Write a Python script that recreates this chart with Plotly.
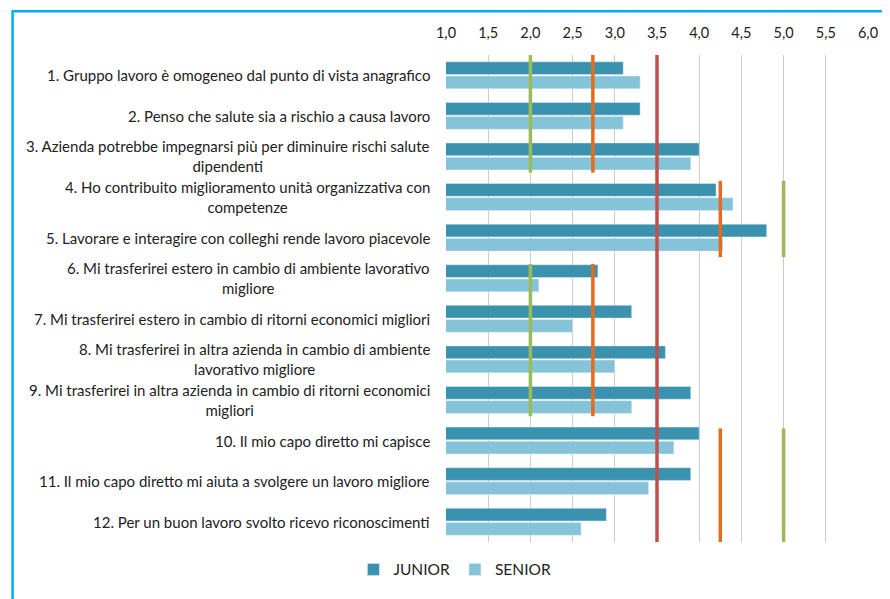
import plotly.graph_objects as go

# survey items (Italian), 1 = top row
domande = [
    "1. Gruppo lavoro è omogeneo dal punto di vista anagrafico",
    "2. Penso che salute sia a rischio a causa lavoro",
    "3. Azienda potrebbe impegnarsi più per diminuire rischi salute<br>dipendenti",
    "4. Ho contribuito miglioramento unità organizzativa con<br>competenze",
    "5. Lavorare e interagire con colleghi rende lavoro piacevole",
    "6. Mi trasferirei estero in cambio di ambiente lavorativo<br>migliore",
    "7. Mi trasferirei estero in cambio di ritorni economici migliori",
    "8. Mi trasferirei in altra azienda in cambio di ambiente<br>lavorativo migliore",
    "9. Mi trasferirei in altra azienda in cambio di ritorni economici<br>migliori",
    "10. Il mio capo diretto mi capisce",
    "11. Il mio capo diretto mi aiuta a svolgere un lavoro migliore",
    "12. Per un buon lavoro svolto ricevo riconoscimenti",
]
junior = [3.1, 3.3, 4.0, 4.2, 4.8, 2.8, 3.2, 3.6, 3.9, 4.0, 3.9, 2.9]
senior = [3.3, 3.1, 3.9, 4.4, 4.28, 2.1, 2.5, 3.0, 3.2, 3.7, 3.4, 2.6]

# reference values drawn as vertical segments over blocks of items
media = 3.5
blocco_inizio = [-0.5, 2.6, 4.65, 8.7]
blocco_fine = [2.4, 4.48, 8.4, 11.6]
soglia_arancio = [2.74, 4.25, 2.74, 4.25]
soglia_verde = [2.0, 5.0, 2.0, 5.0]

pos = list(range(len(domande)))

# page body has an 8px margin, so the figure is 8px smaller than the window
W, H = 882, 591
ML, MR, MT, MB = 438, 18, 47, 54

fig = go.Figure()
fig.add_trace(go.Bar(y=pos, x=junior, orientation="h", name="JUNIOR",
                     marker=dict(color="#3A92AF")))
fig.add_trace(go.Bar(y=pos, x=senior, orientation="h", name="SENIOR",
                     marker=dict(color="#84C3D8")))

for v, a, b in zip(soglia_verde, blocco_inizio, blocco_fine):
    fig.add_trace(go.Scatter(x=[v, v], y=[a, b], mode="lines", showlegend=False,
                             line=dict(color="#9BBB59", width=3.5), hoverinfo="skip"))
for v, a, b in zip(soglia_arancio, blocco_inizio, blocco_fine):
    fig.add_trace(go.Scatter(x=[v, v], y=[a, b], mode="lines", showlegend=False,
                             line=dict(color="#E46C1E", width=3.5), hoverinfo="skip"))
fig.add_trace(go.Scatter(x=[media, media], y=[-0.5, 11.5], mode="lines", showlegend=False,
                         line=dict(color="#C0504D", width=3.5), hoverinfo="skip"))

for i, txt in enumerate(domande):
    fig.add_annotation(x=0, y=i, xref="paper", yref="y", text=txt, showarrow=False,
                       xanchor="right", yanchor="middle", align="center", xshift=-14,
                       font=dict(size=15, color="#222222"))

# light blue frame
pw, ph = W - ML - MR, H - MT - MB
x0 = (0.5 - ML) / pw
y1 = 1 + (MT - 3) / ph
x1 = (W + 5 - ML) / pw
y0 = -(MB + 5) / ph
fig.add_shape(type="rect", xref="paper", yref="paper", x0=x0, x1=x1, y0=y0, y1=y1,
              line=dict(color="#00AEEF", width=2.5), layer="above")

fig.update_layout(
    width=W, height=H,
    margin=dict(l=ML, r=MR, t=MT, b=MB),
    paper_bgcolor="white", plot_bgcolor="white",
    font=dict(family="Lato, sans-serif", size=14.5, color="#222222"),
    separators=", ",
    barmode="group", bargap=0.30, bargroupgap=0.1,
    xaxis=dict(range=[1, 6], dtick=0.5, tickformat=".1f", side="top",
               showgrid=True, gridcolor="#CCCCCC", gridwidth=1.3,
               zeroline=False, showline=False, ticks="", ticklabelstandoff=13),
    yaxis=dict(range=[11.5, -0.5], showticklabels=False, showgrid=False,
               zeroline=False, showline=False),
    legend=dict(orientation="h", x=(447 - ML) / pw, xanchor="center",
                y=-(565 - (H - MB)) / ph, yanchor="middle",
                font=dict(size=15.5), itemwidth=30),
    showlegend=True,
)

fig.write_html("out.html")
